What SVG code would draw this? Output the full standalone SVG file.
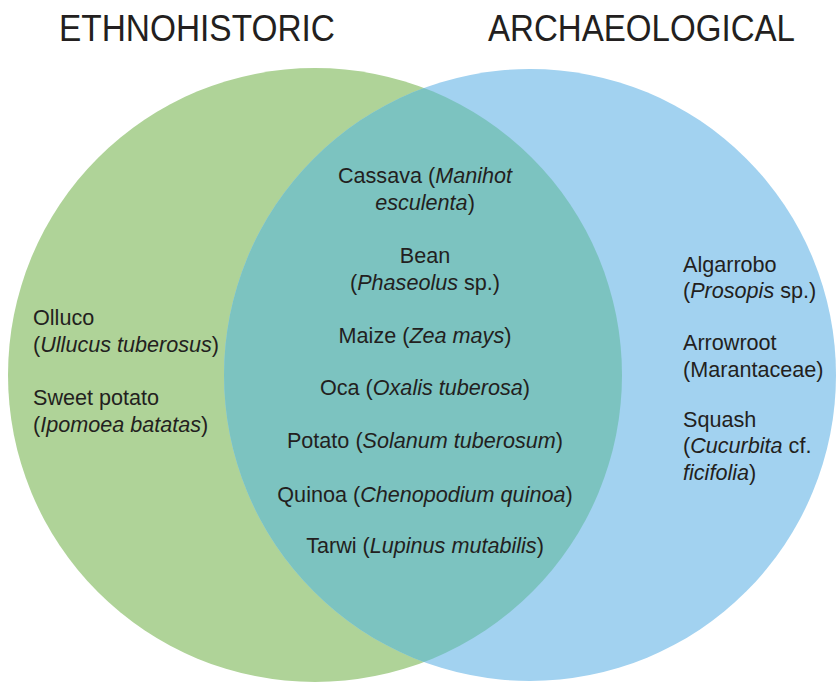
<svg xmlns="http://www.w3.org/2000/svg" width="837" height="683" viewBox="0 0 837 683">
<style>
.t{font-family:"Liberation Sans",Arial,sans-serif;font-size:21.6px;fill:#231f20}
.c{text-anchor:middle}
.h{font-family:"Liberation Sans",Arial,sans-serif;font-size:36px;fill:#231f20}
.i{font-style:italic}
</style>
<defs>
<clipPath id="gclip"><circle cx="315" cy="375" r="307"/></clipPath>
</defs>
<rect width="837" height="683" fill="#fff"/>
<g id="ethnohistoric">
<circle cx="315" cy="375" r="307" fill="#afd398"/>
</g>
<g id="archaeological">
<circle cx="530" cy="375" r="306" fill="#a2d2f0"/>
</g>
<g id="overlap">
<circle cx="530" cy="375" r="306" fill="#7cc3c0" clip-path="url(#gclip)"/>
</g>
<g id="titles">
<text class="h" x="59" y="41" textLength="276" lengthAdjust="spacingAndGlyphs">ETHNOHISTORIC</text>
<text class="h" x="488" y="41" textLength="307" lengthAdjust="spacingAndGlyphs">ARCHAEOLOGICAL</text>
</g>
<g id="left-items">
<text class="t" x="33" y="325">Olluco</text>
<text class="t" x="33" y="352">(<tspan class="i">Ullucus tuberosus</tspan>)</text>
<text class="t" x="33" y="405">Sweet potato</text>
<text class="t" x="33" y="432">(<tspan class="i">Ipomoea batatas</tspan>)</text>
</g>
<g id="shared-items">
<text class="t c" x="425" y="183">Cassava (<tspan class="i">Manihot</tspan></text>
<text class="t c" x="425" y="210"><tspan class="i">esculenta</tspan>)</text>
<text class="t c" x="425" y="263">Bean</text>
<text class="t c" x="425" y="290">(<tspan class="i">Phaseolus</tspan> sp.)</text>
<text class="t c" x="425" y="343">Maize (<tspan class="i">Zea mays</tspan>)</text>
<text class="t c" x="425" y="395">Oca (<tspan class="i">Oxalis tuberosa</tspan>)</text>
<text class="t c" x="425" y="448">Potato (<tspan class="i">Solanum tuberosum</tspan>)</text>
<text class="t c" x="425" y="502">Quinoa (<tspan class="i">Chenopodium quinoa</tspan>)</text>
<text class="t c" x="425" y="553">Tarwi (<tspan class="i">Lupinus mutabilis</tspan>)</text>
</g>
<g id="right-items">
<text class="t" x="683" y="272">Algarrobo</text>
<text class="t" x="683" y="298">(<tspan class="i">Prosopis</tspan> sp.)</text>
<text class="t" x="683" y="350">Arrowroot</text>
<text class="t" x="683" y="377">(Marantaceae)</text>
<text class="t" x="683" y="427">Squash</text>
<text class="t" x="683" y="453">(<tspan class="i">Cucurbita</tspan> cf.</text>
<text class="t" x="683" y="480"><tspan class="i">ficifolia</tspan>)</text>
</g>
</svg>
